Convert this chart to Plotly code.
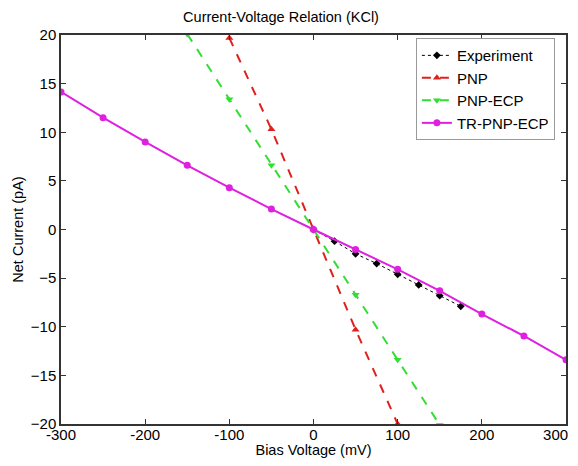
import plotly.graph_objects as go

# bias voltage (mV) and net current (pA)
exp_v = [0, 25, 50, 75, 100, 125, 150, 175]
exp_i = [0, -1.2, -2.5, -3.5, -4.6, -5.7, -6.8, -7.9]

pnp_v = [-100, -50, 0, 50, 100]
pnp_i = [19.7, 10.3, 0, -10.3, -20.0]

ecp_v = [-150, -100, -50, 0, 50, 100, 150]
ecp_i = [20.1, 13.4, 6.6, 0, -6.7, -13.4, -20.1]

tr_v = [-300, -250, -200, -150, -100, -50, 0, 50, 100, 150, 200, 250, 300]
tr_i = [14.15, 11.5, 9.0, 6.6, 4.3, 2.1, 0, -2.05, -4.1, -6.3, -8.7, -10.95, -13.4]

x_ticks = [-300, -200, -100, 0, 100, 200, 300]
# last label padded so it stays inside the window edge
x_labels = ["-300", "-200", "-100", "0", "100", "200", "300" + "\u00a0" * 5]

font = "Liberation Sans, Arial, sans-serif"

fig = go.Figure()

fig.add_trace(go.Scatter(
    x=exp_v, y=exp_i, name="Experiment", mode="lines+markers",
    line=dict(color="black", width=1, dash="dot"),
    marker=dict(symbol="diamond", size=6, color="black"),
))
fig.add_trace(go.Scatter(
    x=pnp_v, y=pnp_i, name="PNP", mode="lines+markers",
    line=dict(color="#e0201c", width=2, dash="dash"),
    marker=dict(symbol="triangle-up", size=7, color="#e0201c"),
))
fig.add_trace(go.Scatter(
    x=ecp_v, y=ecp_i, name="PNP-ECP", mode="lines+markers",
    line=dict(color="#33dd33", width=2, dash="dash"),
    marker=dict(symbol="triangle-down", size=7, color="#33dd33"),
))
fig.add_trace(go.Scatter(
    x=tr_v, y=tr_i, name="TR-PNP-ECP", mode="lines+markers",
    line=dict(color="#e020e0", width=2),
    marker=dict(symbol="circle", size=7, color="#e020e0"),
))

axis = dict(
    showgrid=False, zeroline=False, showline=True, linecolor="#333333",
    linewidth=1.5, mirror="ticks", ticks="inside", ticklen=5,
    tickcolor="#333333", tickfont=dict(size=15, color="black"),
    automargin=False, ticklabeloverflow="allow",
)

# the page body adds an 8px offset, so the figure is kept small enough
# that the page never scrolls
fig.update_layout(
    width=570, height=450,
    margin=dict(l=53, r=12, t=27, b=34),
    paper_bgcolor="white", plot_bgcolor="white",
    font=dict(family=font, color="black"),
    title=dict(text="Current-Voltage Relation (KCl)", x=0.479, y=0.981,
               xanchor="center", yanchor="middle", font=dict(size=14.5)),
    xaxis=dict(axis, range=[-300, 300], tickvals=x_ticks, ticktext=x_labels,
               ticklabelstandoff=-4,
               title=dict(text="Bias Voltage (mV)", font=dict(size=14.5), standoff=0)),
    yaxis=dict(axis, range=[-20, 20], dtick=5,
               title=dict(text="Net Current (pA)", font=dict(size=14.5), standoff=4)),
    legend=dict(x=0.978, y=0.992, xanchor="right", yanchor="top",
                bgcolor="white", bordercolor="#999999", borderwidth=1,
                font=dict(size=15), tracegroupgap=0, itemwidth=30),
    showlegend=True,
)

fig.write_html("out.html")
